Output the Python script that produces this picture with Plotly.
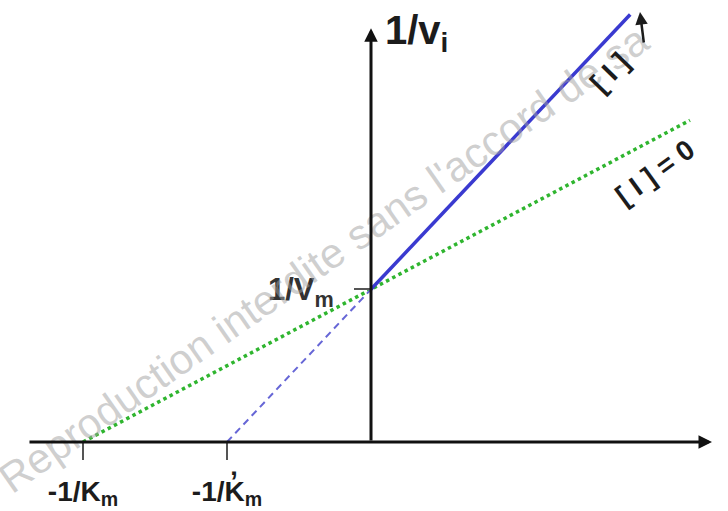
import plotly.graph_objects as go

# Lineweaver-Burk plot: competitive inhibition (abstract units)
# 1/[S] positions of the x-intercepts and 1/v intercept
tick_x_vals = [-2.0, -1.0]
tick_x_text = ["<b>-1/K<sub>m</sub></b>", "<b>-1/K\u0313<sub>m</sub></b>"]
tick_y_vals = [1.0]
tick_y_text = ["<b>1/V<sub>m</sub></b>"]

# [I] = 0 line (dotted green)
no_inhib_x = [-2.0, 0.0, 2.215]
no_inhib_y = [0.0, 1.0, 2.107]

# [I] > 0 line: extrapolated part (dashed) and measured part (solid)
inhib_extrap_x = [-1.0, 0.0]
inhib_extrap_y = [0.0, 1.0]
inhib_x = [0.0, 1.8]
inhib_y = [1.0, 2.8]

# axis extents
x_axis_span = [-2.382, 2.368]
y_axis_top = 2.71

X_RANGE = [-371 / 144, 357 / 144]
Y_RANGE = [0, 442 / 152.7]

FONT = "Liberation Sans, Arial, sans-serif"
TXT = "#1c1c1c"

fig = go.Figure()

fig.add_trace(go.Scatter(
    x=no_inhib_x, y=no_inhib_y, mode="lines",
    line=dict(color="#2fb52f", width=3.5, dash="dot"),
    showlegend=False, hoverinfo="skip"))
fig.add_trace(go.Scatter(
    x=inhib_extrap_x, y=inhib_extrap_y, mode="lines",
    line=dict(color="#6666d6", width=2, dash="7px,5px"),
    showlegend=False, hoverinfo="skip"))
fig.add_trace(go.Scatter(
    x=inhib_x, y=inhib_y, mode="lines",
    line=dict(color="#3a3ad0", width=3.5),
    showlegend=False, hoverinfo="skip"))

annotations = [
    # watermark
    dict(text="Reproduction interdite sans l'accord de sa",
         xref="paper", yref="paper", x=0.445, y=0.415,
         textangle=-35, showarrow=False,
         font=dict(family=FONT, size=42, color="rgba(160,160,160,0.5)")),
    # x axis with arrow
    dict(x=x_axis_span[1], y=0, ax=x_axis_span[0], ay=0,
         xref="x", yref="y", axref="x", ayref="y", text="",
         showarrow=True, arrowhead=2, arrowsize=0.9, arrowwidth=3,
         arrowcolor="#111"),
    # y axis with arrow
    dict(x=0, y=y_axis_top, ax=0, ay=0,
         xref="x", yref="y", axref="x", ayref="y", text="",
         showarrow=True, arrowhead=2, arrowsize=0.9, arrowwidth=3,
         arrowcolor="#111"),
    # axis titles
    dict(text="<b>1/v<sub>i</sub></b>", x=0.083, y=2.678,
         xref="x", yref="y", xanchor="left", yanchor="middle",
         showarrow=False, font=dict(family=FONT, size=40, color=TXT)),
    dict(text="<b>1/[S]</b>", x=2.23, y=-0.314,
         xref="x", yref="y", xanchor="center", yanchor="middle",
         showarrow=False, font=dict(family=FONT, size=27, color=TXT)),
    # line labels
    dict(text="<b>[ I ]</b>", x=1.66, y=2.417, xref="x", yref="y",
         textangle=-46, showarrow=False,
         font=dict(family=FONT, size=28, color=TXT)),
    dict(x=1.868, y=2.816, ax=4, ay=32, xref="x", yref="y", text="",
         showarrow=True, arrowhead=2, arrowsize=1, arrowwidth=2.5,
         arrowcolor=TXT),
    dict(text="<b>[ I ] = 0</b>", x=1.972, y=1.768, xref="x", yref="y",
         textangle=-36, showarrow=False,
         font=dict(family=FONT, size=28, color=TXT)),
]

fig.update_layout(
    width=728, height=511,
    margin=dict(l=0, r=0, t=0, b=69, autoexpand=False),
    paper_bgcolor="white", plot_bgcolor="white",
    annotations=annotations,
    xaxis=dict(range=X_RANGE, showgrid=False, zeroline=False,
               showline=False, tickmode="array", automargin=False,
               tickvals=tick_x_vals, ticktext=tick_x_text,
               ticks="outside", ticklen=17, tickwidth=1.5,
               tickcolor="#555", ticklabelstandoff=7,
               tickfont=dict(family=FONT, size=28, color=TXT)),
    yaxis=dict(range=Y_RANGE, showgrid=False, zeroline=False,
               showline=False, anchor="free", automargin=False,
               position=371 / 728, tickmode="array",
               tickvals=tick_y_vals, ticktext=tick_y_text,
               ticks="outside", ticklen=17, tickwidth=1.5,
               tickcolor="#555", ticklabelstandoff=14,
               tickfont=dict(family=FONT, size=31, color="#333")),
)

fig.write_html("out.html")
